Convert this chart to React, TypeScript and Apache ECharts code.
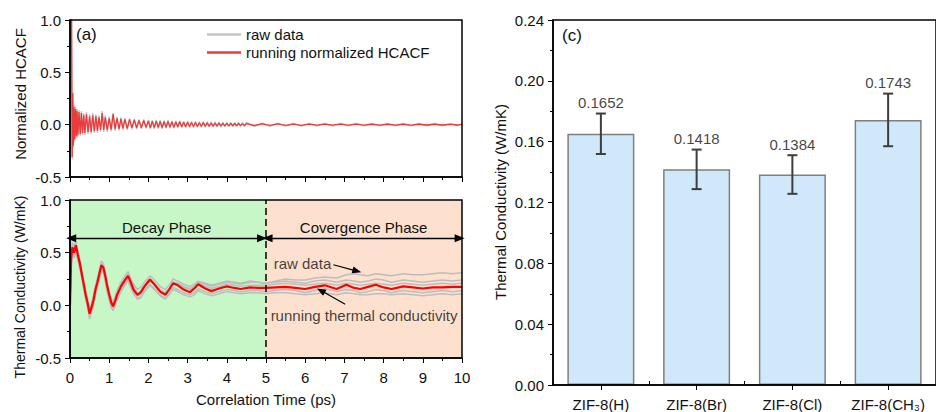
import React, { useEffect, useRef } from "react";
import * as echarts from "echarts";

// ---------- Panel (a): normalized HCACF ----------
const tA = [
  0, 0.02, 0.04, 0.055, 0.07, 0.085, 0.1, 0.12, 0.14, 0.16,
  0.18, 0.2, 0.23, 0.26, 0.29, 0.32, 0.35, 0.38, 0.42, 0.46, 0.5,
  0.54, 0.58, 0.62, 0.66, 0.7, 0.74, 0.78, 0.82, 0.86, 0.9,
  0.95, 1.0, 1.05, 1.1, 1.15, 1.2, 1.25, 1.3, 1.35, 1.4,
  1.46, 1.52, 1.58, 1.64, 1.7, 1.76, 1.82, 1.88, 1.94, 2.0,
  2.05, 2.1, 2.15, 2.2, 2.25, 2.3, 2.35, 2.4, 2.45, 2.5,
  2.55, 2.6, 2.65, 2.7, 2.75, 2.8, 2.85, 2.9, 2.95, 3.0,
  3.05, 3.1, 3.15, 3.2, 3.25, 3.3, 3.35, 3.4, 3.45, 3.5,
  3.55, 3.6, 3.65, 3.7, 3.75, 3.8, 3.85, 3.9, 3.95, 4.0,
  4.05, 4.1, 4.15, 4.2, 4.25, 4.3, 4.35, 4.4, 4.45, 4.5,
  4.7, 4.9, 5.1, 5.3, 5.5, 5.7, 5.9, 6.1, 6.3, 6.5,
  6.7, 6.9, 7.1, 7.3, 7.5, 7.7, 7.9, 8.1, 8.3, 8.5,
  8.7, 8.9, 9.1, 9.3, 9.5, 9.7, 9.9, 10,
];
const hcacfRun = [
  1.0, 1.0, 1.0, -0.31, 0.3, -0.2, 0.17, -0.14, 0.15, -0.11,
  0.13, -0.1, 0.12, -0.09, 0.11, -0.08, 0.09, -0.08, 0.1, -0.07, 0.08,
  -0.07, 0.09, -0.06, 0.08, -0.06, 0.07, -0.05, 0.11, -0.05, 0.07,
  -0.05, 0.06, -0.045, 0.1, -0.04, 0.06, -0.04, 0.055, -0.035, 0.05,
  -0.035, 0.05, -0.03, 0.045, -0.03, 0.04, -0.03, 0.04, -0.025, 0.035,
  -0.03, 0.032, -0.028, 0.034, -0.025, 0.03, -0.027, 0.028, -0.024, 0.03,
  -0.022, 0.026, -0.024, 0.025, -0.02, 0.027, -0.021, 0.022, -0.019, 0.024,
  -0.018, 0.02, -0.017, 0.021, -0.016, 0.018, -0.015, 0.019, -0.014, 0.017,
  -0.014, 0.016, -0.013, 0.015, -0.012, 0.014, -0.012, 0.013, -0.011, 0.013,
  -0.01, 0.012, -0.01, 0.011, -0.009, 0.011, -0.009, 0.01, -0.008, 0.01,
  -0.008, 0.008, -0.007, 0.007, -0.006, 0.006, -0.006, 0.006, -0.005, 0.005,
  -0.005, 0.005, -0.004, 0.005, -0.004, 0.004, -0.004, 0.004, -0.004, 0.004,
  -0.004, 0.004, -0.003, 0.004, -0.003, 0.003, -0.003, 0.003,
];
const hcacfRaw = [
  1.0, 1.0, 1.0, -0.33, 0.31, -0.22, 0.19, -0.16, 0.17, -0.13,
  0.15, -0.12, 0.14, -0.11, 0.13, -0.1, 0.11, -0.1, 0.12, -0.09, 0.1,
  -0.09, 0.11, -0.08, 0.1, -0.08, 0.09, -0.07, 0.13, -0.07, 0.09,
  -0.07, 0.08, -0.065, 0.11, -0.06, 0.075, -0.055, 0.07, -0.05, 0.065,
  -0.05, 0.06, -0.045, 0.055, -0.045, 0.05, -0.04, 0.05, -0.035, 0.045,
  -0.042, 0.044, -0.04, 0.046, -0.037, 0.042, -0.039, 0.04, -0.036, 0.042,
  -0.034, 0.038, -0.036, 0.037, -0.032, 0.039, -0.033, 0.034, -0.031, 0.036,
  -0.03, 0.032, -0.029, 0.033, -0.028, 0.03, -0.027, 0.031, -0.026, 0.029,
  -0.026, 0.028, -0.025, 0.027, -0.024, 0.026, -0.024, 0.025, -0.023, 0.025,
  -0.022, 0.024, -0.022, 0.023, -0.021, 0.023, -0.021, 0.022, -0.02, 0.022,
  -0.016, 0.016, -0.015, 0.015, -0.014, 0.014, -0.014, 0.013, -0.013, 0.013,
  -0.013, 0.012, -0.012, 0.012, -0.012, 0.012, -0.011, 0.012, -0.011, 0.011,
  -0.011, 0.011, -0.011, 0.011, -0.01, 0.011, -0.01, 0.01,
];

// ---------- Panel (b): thermal conductivity vs correlation time ----------
const tB = [
  0, 0.03, 0.06, 0.1, 0.15, 0.2, 0.25, 0.3, 0.35, 0.4,
  0.45, 0.5, 0.55, 0.6, 0.65, 0.7, 0.75, 0.8, 0.85, 0.9,
  0.95, 1.0, 1.05, 1.1, 1.15, 1.2, 1.3, 1.4, 1.48, 1.55,
  1.62, 1.72, 1.8, 1.9, 2.04, 2.15, 2.3, 2.43, 2.53, 2.63,
  2.75, 2.9, 3.06, 3.17, 3.27, 3.45, 3.61, 3.8, 4.0, 4.2,
  4.35, 4.6, 4.8, 5.0, 5.25, 5.5, 5.75, 6.0, 6.25, 6.5,
  6.8, 7.05, 7.25, 7.4, 7.6, 7.8, 8.0, 8.2, 8.5, 8.75,
  9.0, 9.25, 9.5, 9.75, 10,
];
const kRun = [
  0, 0.45, 0.55, 0.5, 0.57, 0.48, 0.4, 0.3, 0.2, 0.1,
  0.02, -0.08, -0.02, 0.05, 0.15, 0.22, 0.3, 0.38, 0.36, 0.28,
  0.18, 0.1, 0.03, -0.01, 0.04, 0.1, 0.18, 0.24, 0.28, 0.22,
  0.15, 0.1, 0.12, 0.18, 0.245, 0.2, 0.13, 0.1, 0.15, 0.21,
  0.19, 0.15, 0.125, 0.16, 0.2, 0.16, 0.135, 0.16, 0.18, 0.165,
  0.155, 0.17, 0.165, 0.165, 0.17, 0.175, 0.165, 0.155, 0.175, 0.19,
  0.155, 0.195, 0.165, 0.155, 0.175, 0.195, 0.17, 0.155, 0.18, 0.17,
  0.16, 0.17, 0.17, 0.175, 0.175,
];
const kRaw1 = [
  0, 0.5, 0.6, 0.55, 0.6, 0.52, 0.44, 0.34, 0.24, 0.14,
  0.06, -0.04, 0.02, 0.09, 0.19, 0.26, 0.34, 0.42, 0.4, 0.32,
  0.22, 0.14, 0.07, 0.03, 0.08, 0.14, 0.22, 0.28, 0.32, 0.26,
  0.2, 0.15, 0.17, 0.22, 0.28, 0.24, 0.18, 0.15, 0.19, 0.25,
  0.23, 0.2, 0.18, 0.2, 0.23, 0.21, 0.19, 0.21, 0.23, 0.22,
  0.21, 0.23, 0.22, 0.21, 0.23, 0.25, 0.24, 0.24, 0.26, 0.27,
  0.26, 0.29, 0.3, 0.29, 0.28, 0.3, 0.29, 0.28, 0.3, 0.29,
  0.29, 0.3, 0.31, 0.3, 0.31,
];
const kRaw2 = [
  0, 0.4, 0.5, 0.47, 0.52, 0.45, 0.37, 0.27, 0.18, 0.08,
  0.0, -0.1, -0.05, 0.03, 0.12, 0.2, 0.28, 0.35, 0.34, 0.26,
  0.16, 0.08, 0.01, -0.03, 0.02, 0.08, 0.16, 0.22, 0.26, 0.2,
  0.14, 0.09, 0.11, 0.17, 0.23, 0.2, 0.14, 0.12, 0.16, 0.22,
  0.21, 0.18, 0.16, 0.18, 0.22, 0.2, 0.18, 0.2, 0.22, 0.21,
  0.2, 0.22, 0.22, 0.21, 0.22, 0.23, 0.22, 0.21, 0.23, 0.24,
  0.22, 0.24, 0.23, 0.22, 0.23, 0.25, 0.24, 0.22, 0.24, 0.23,
  0.22, 0.23, 0.24, 0.23, 0.24,
];
const kRaw3 = [
  0, 0.5, 0.58, 0.53, 0.6, 0.5, 0.42, 0.31, 0.22, 0.12,
  0.03, -0.06, -0.01, 0.07, 0.16, 0.23, 0.31, 0.39, 0.37, 0.29,
  0.2, 0.11, 0.05, 0.01, 0.05, 0.11, 0.19, 0.25, 0.29, 0.23,
  0.17, 0.12, 0.13, 0.19, 0.25, 0.21, 0.15, 0.12, 0.16, 0.22,
  0.2, 0.17, 0.15, 0.17, 0.21, 0.18, 0.16, 0.18, 0.2, 0.19,
  0.18, 0.19, 0.19, 0.19, 0.2, 0.21, 0.2, 0.19, 0.2, 0.21,
  0.19, 0.21, 0.2, 0.19, 0.2, 0.21, 0.2, 0.19, 0.21, 0.2,
  0.19, 0.2, 0.21, 0.2, 0.21,
];
const kRaw4 = [
  0, 0.4, 0.5, 0.45, 0.5, 0.43, 0.35, 0.26, 0.16, 0.06,
  -0.02, -0.12, -0.06, 0.01, 0.11, 0.18, 0.26, 0.34, 0.32, 0.24,
  0.14, 0.06, -0.01, -0.04, 0.0, 0.06, 0.14, 0.2, 0.24, 0.18,
  0.12, 0.07, 0.08, 0.14, 0.2, 0.16, 0.1, 0.07, 0.11, 0.17,
  0.15, 0.12, 0.1, 0.12, 0.16, 0.13, 0.11, 0.13, 0.15, 0.14,
  0.13, 0.14, 0.14, 0.13, 0.14, 0.15, 0.14, 0.12, 0.14, 0.16,
  0.13, 0.15, 0.14, 0.12, 0.13, 0.15, 0.14, 0.12, 0.14, 0.13,
  0.12, 0.13, 0.14, 0.13, 0.14,
];
const kRaw5 = [
  0, 0.48, 0.54, 0.48, 0.55, 0.46, 0.38, 0.28, 0.18, 0.08,
  -0.01, -0.13, -0.07, 0.0, 0.1, 0.17, 0.25, 0.33, 0.31, 0.23,
  0.13, 0.05, -0.02, -0.05, -0.01, 0.05, 0.13, 0.19, 0.23, 0.17,
  0.11, 0.06, 0.07, 0.13, 0.19, 0.15, 0.09, 0.06, 0.1, 0.15,
  0.13, 0.1, 0.08, 0.1, 0.14, 0.11, 0.09, 0.11, 0.13, 0.12,
  0.11, 0.12, 0.12, 0.11, 0.12, 0.12, 0.11, 0.1, 0.11, 0.12,
  0.1, 0.12, 0.11, 0.1, 0.1, 0.11, 0.11, 0.1, 0.11, 0.1,
  0.09, 0.1, 0.11, 0.1, 0.11,
];
const kRawRuns = [kRaw1, kRaw2, kRaw3, kRaw4, kRaw5];

// ---------- Panel (c): thermal conductivity by material ----------
const materials = ["ZIF-8(H)", "ZIF-8(Br)", "ZIF-8(Cl)", "ZIF-8(CH\u2083)"];
const kMean = [0.1652, 0.1418, 0.1384, 0.1743];
const kErr = [0.0133, 0.013, 0.0127, 0.0173];

const FONT = "'Liberation Sans', Arial, Helvetica, sans-serif";
const TXT = "#111";

const pair = (t: number[], v: number[]) => t.map((x, i) => [x, v[i]]);

export default function App() {
  const ref = useRef<HTMLDivElement>(null);
  useEffect(() => {
    if (!ref.current) return;
    const chart = echarts.init(ref.current, undefined, { renderer: "svg" });

    const axisLine = { show: true, onZero: false, lineStyle: { color: "#000", width: 1.5 } };
    const tick = { show: true, length: 5, lineStyle: { color: "#000", width: 1 } };
    const minor = { show: true, splitNumber: 2, length: 3, lineStyle: { color: "#000", width: 1 } };
    const lbl = { color: TXT, fontSize: 15, fontFamily: FONT };

    const timeAxis = (gridIndex: number, showLabel: boolean) => ({
      type: "value",
      gridIndex,
      min: 0,
      max: 10,
      interval: 1,
      axisLine,
      axisTick: tick,
      minorTick: minor,
      splitLine: { show: false },
      axisLabel: { ...lbl, show: showLabel, margin: 12 },
      z: 6,
    });
    const kAxis = (gridIndex: number) => ({
      type: "value",
      gridIndex,
      min: -0.5,
      max: 1.0,
      interval: 0.5,
      axisLine,
      axisTick: tick,
      minorTick: minor,
      splitLine: { show: false },
      axisLabel: { ...lbl, margin: 9, formatter: (v: number) => v.toFixed(1) },
      z: 6,
    });

    const errData = kMean.map((m, i) => [i, m - kErr[i], m + kErr[i]]);
    const topData = kMean.map((m, i) => [i, m + kErr[i]]);

    chart.setOption({
      animation: false,
      textStyle: { fontFamily: FONT, color: TXT },
      grid: [
        { left: 70, top: 20, width: 392, height: 157, show: true, borderColor: "#000", borderWidth: 1.5, z: 6 },
        { left: 70, top: 200, width: 392, height: 158, show: true, borderColor: "#000", borderWidth: 1.5, z: 6 },
        { left: 553, top: 20, width: 392, height: 365, show: true, borderColor: "#000", borderWidth: 1.5, z: 6 },
      ],
      legend: {
        left: 202,
        top: 22,
        orient: "vertical",
        itemWidth: 34,
        itemHeight: 2.5,
        itemGap: 3,
        itemTextGap: 5,
        textStyle: { fontSize: 15, color: TXT, fontFamily: FONT },
        data: [
          { name: "raw data", icon: "rect" },
          { name: "running normalized HCACF", icon: "rect" },
        ],
        selectedMode: false,
      },
      xAxis: [
        timeAxis(0, false),
        {
          ...timeAxis(1, true),
          name: "Correlation Time (ps)",
          nameLocation: "middle",
          nameGap: 34,
          nameTextStyle: { fontSize: 15, color: TXT, fontFamily: FONT },
        },
        {
          type: "category",
          gridIndex: 2,
          data: materials,
          axisLine,
          axisTick: { show: true, alignWithLabel: true, length: 5, lineStyle: { color: "#000", width: 1 } },
          axisLabel: { ...lbl, margin: 12 },
          z: 6,
        },
        {
          type: "category",
          gridIndex: 2,
          data: materials,
          position: "bottom",
          axisLine: { show: false },
          axisTick: { show: true, inside: true, length: 4, lineStyle: { color: "#000", width: 1 } },
          axisLabel: { show: false },
          z: 6,
        },
      ],
      yAxis: [
        kAxis(0),
        kAxis(1),
        {
          type: "value",
          gridIndex: 2,
          min: 0,
          max: 0.24,
          interval: 0.04,
          axisLine,
          axisTick: tick,
          minorTick: minor,
          splitLine: { show: false },
          axisLabel: { ...lbl, margin: 9, formatter: (v: number) => v.toFixed(2) },
          z: 6,
        },
      ],
      graphic: [
        { type: "text", x: 76, y: 26, style: { text: "(a)", font: `17px ${FONT}`, fill: TXT } },
        { type: "text", x: 76, y: 206, style: { text: "(b)", font: `17px ${FONT}`, fill: TXT } },
        { type: "text", x: 562, y: 27, style: { text: "(c)", font: `17px ${FONT}`, fill: TXT } },
        {
          type: "text", x: 20, y: 94, rotation: Math.PI / 2,
          style: { text: "Normalized HCACF", font: `15px ${FONT}`, fill: TXT, align: "center", verticalAlign: "middle" },
        },
        {
          type: "text", x: 20, y: 287, rotation: Math.PI / 2,
          style: { text: "Thermal Conductivity (W/mK)", font: `14px ${FONT}`, fill: TXT, align: "center", verticalAlign: "middle" },
        },
        {
          type: "text", x: 500, y: 202, rotation: Math.PI / 2,
          style: { text: "Thermal Conductivity (W/mK)", font: `15px ${FONT}`, fill: TXT, align: "center", verticalAlign: "middle" },
        },
      ],
      series: [
        // (a)
        {
          name: "raw data", type: "line", xAxisIndex: 0, yAxisIndex: 0,
          data: pair(tA, hcacfRaw), showSymbol: false, symbol: "none",
          lineStyle: { color: "#c4c4c4", width: 1.4 }, itemStyle: { color: "#c4c4c4" }, clip: false,
        },
        {
          name: "running normalized HCACF", type: "line", xAxisIndex: 0, yAxisIndex: 0,
          data: pair(tA, hcacfRun), showSymbol: false, symbol: "none",
          lineStyle: { color: "#ec3a3a", width: 1.3 }, itemStyle: { color: "#ec3a3a" }, clip: false,
        },
        // (b) raw runs
        ...kRawRuns.map((run, idx) => ({
          name: `raw run ${idx + 1}`, type: "line", xAxisIndex: 1, yAxisIndex: 1,
          data: pair(tB, run), showSymbol: false, symbol: "none",
          lineStyle: { color: "#bdbdbd", width: 1.5 }, itemStyle: { color: "#bdbdbd" },
          markArea: idx === 0 ? {
            silent: true,
            data: [
              [{ xAxis: 0, itemStyle: { color: "#c7f6c7" } }, { xAxis: 5 }],
              [{ xAxis: 5, itemStyle: { color: "#fde1ce" } }, { xAxis: 10 }],
            ],
          } : undefined,
        })),
        // (b) running thermal conductivity
        {
          name: "running thermal conductivity", type: "line", xAxisIndex: 1, yAxisIndex: 1,
          data: pair(tB, kRun), showSymbol: false, symbol: "none",
          lineStyle: { color: "#ff0000", width: 2.2 }, itemStyle: { color: "#ff0000" },
          markLine: {
            silent: true,
            animation: false,
            data: [
              [
                { coord: [5, -0.5], symbol: "none", lineStyle: { type: [7, 4], color: "#000", width: 1.5 }, label: { show: false } },
                { coord: [5, 1.0], symbol: "none" },
              ],
              [
                { coord: [0.03, 0.636], symbol: "triangle", symbolSize: [8, 10], lineStyle: { type: "solid", color: "#000", width: 1.3 },
                  label: { show: true, formatter: "Decay Phase", position: "insideMiddleTop", distance: 3, fontSize: 15, color: TXT, fontFamily: FONT } },
                { coord: [4.9, 0.636], symbol: "triangle", symbolSize: [8, 10] },
              ],
              [
                { coord: [5.04, 0.636], symbol: "triangle", symbolSize: [8, 10], lineStyle: { type: "solid", color: "#000", width: 1.3 },
                  label: { show: true, formatter: "Covergence Phase", position: "insideMiddleTop", distance: 3, fontSize: 15, color: TXT, fontFamily: FONT } },
                { coord: [9.94, 0.636], symbol: "triangle", symbolSize: [8, 10] },
              ],
              [
                { coord: [6.72, 0.385], symbol: "none", lineStyle: { type: "solid", color: "#000", width: 1.2 }, label: { show: false } },
                { coord: [7.32, 0.325], symbol: "triangle", symbolSize: [7, 9] },
              ],
              [
                { coord: [7.02, 0.01], symbol: "none", lineStyle: { type: "solid", color: "#000", width: 1.2 }, label: { show: false } },
                { coord: [6.4, 0.14], symbol: "triangle", symbolSize: [7, 9] },
              ],
            ],
          },
        },
        // (b) annotation texts
        {
          name: "annotations", type: "scatter", xAxisIndex: 1, yAxisIndex: 1,
          symbolSize: 1, itemStyle: { color: "transparent" }, silent: true, z: 7,
          data: [
            { value: [5.93, 0.395], label: { formatter: "raw data" } },
            { value: [7.5, -0.095], label: { formatter: "running thermal conductivity" } },
          ],
          label: { show: true, position: "inside", fontSize: 15, color: TXT, fontFamily: FONT },
        },
        // (c) bars
        {
          name: "k", type: "bar", xAxisIndex: 2, yAxisIndex: 2,
          data: kMean, barWidth: "70%",
          itemStyle: { color: "#cfe9fb", borderColor: "#7f7f7f", borderWidth: 1.5 },
        },
        {
          name: "err", type: "custom", xAxisIndex: 2, yAxisIndex: 2,
          data: errData, encode: { x: 0, y: [1, 2] }, z: 4,
          renderItem: (params: any, api: any) => {
            const x = api.value(0);
            const lo = api.coord([x, api.value(1)]);
            const hi = api.coord([x, api.value(2)]);
            const h = 5;
            const style = { stroke: "#3d3d3d", lineWidth: 2 };
            return {
              type: "group",
              children: [
                { type: "line", shape: { x1: lo[0], y1: lo[1], x2: hi[0], y2: hi[1] }, style },
                { type: "line", shape: { x1: lo[0] - h, y1: lo[1], x2: lo[0] + h, y2: lo[1] }, style },
                { type: "line", shape: { x1: hi[0] - h, y1: hi[1], x2: hi[0] + h, y2: hi[1] }, style },
              ],
            };
          },
        },
        {
          name: "values", type: "scatter", xAxisIndex: 2, yAxisIndex: 2,
          data: topData, symbolSize: 1, itemStyle: { color: "transparent" }, silent: true, z: 5,
          label: {
            show: true, position: "top", distance: 3, fontSize: 15, color: TXT, fontFamily: FONT,
            formatter: (p: any) => kMean[p.dataIndex].toFixed(4),
          },
        },
      ],
    });
    return () => chart.dispose();
  }, []);
  return (
    <div
      ref={ref}
      style={{ position: "fixed", left: 0, top: 0, width: 936, height: 412, background: "#fff" }}
    />
  );
}
